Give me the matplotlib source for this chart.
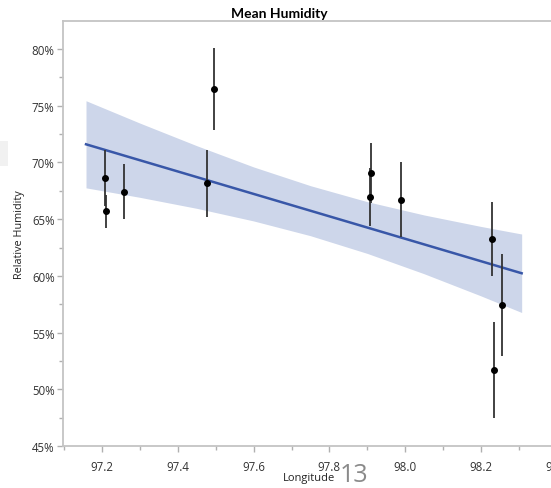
import numpy as np
import matplotlib.pyplot as plt
from matplotlib.ticker import MultipleLocator, FuncFormatter
from matplotlib.patches import Rectangle

# station means with error bars
longitude = [97.208, 97.211, 97.257, 97.476, 97.496, 97.909, 97.906, 97.990, 98.230, 98.255, 98.235]
humidity = [68.61, 65.70, 67.41, 68.17, 76.47, 69.06, 66.96, 66.70, 63.25, 57.42, 51.69]
humidity_err = [2.45, 1.47, 2.44, 2.95, 3.59, 2.64, 2.56, 3.31, 3.24, 4.49, 4.20]

# fitted line and its confidence band
fit_x = [97.157, 98.308]
fit_y = [71.60, 60.23]
band_x = [97.157, 97.3, 97.45, 97.6, 97.75, 97.9, 98.05, 98.2, 98.308]
band_hi = [75.44, 73.46, 71.47, 69.60, 67.95, 66.54, 65.37, 64.36, 63.69]
band_lo = [67.76, 66.92, 65.95, 64.84, 63.54, 61.98, 60.19, 58.24, 56.77]

fig = plt.figure(figsize=(5.51, 4.89), dpi=100)
ax = fig.add_axes([63 / 551, 42 / 489, 502 / 551, 425 / 489])

ax.fill_between(band_x, band_lo, band_hi, color='#cdd6ea', lw=0, zorder=1)
ax.plot(fit_x, fit_y, color='#3857a8', lw=1.8, zorder=2)
ax.errorbar(longitude, humidity, yerr=humidity_err, fmt='o', color='black',
            ecolor='#333333', elinewidth=1.3, markersize=4, capsize=0, zorder=3)

ax.set_xlim(97.0962, 98.4225)
ax.set_ylim(45, 82.47)
ax.xaxis.set_major_locator(MultipleLocator(0.2))
ax.xaxis.set_minor_locator(MultipleLocator(0.1))
ax.yaxis.set_major_locator(MultipleLocator(5))
ax.yaxis.set_minor_locator(MultipleLocator(2.5))
ax.xaxis.set_major_formatter(FuncFormatter(lambda v, p: f'{v:.1f}'))
ax.yaxis.set_major_formatter(FuncFormatter(lambda v, p: f'{v:.0f}%'))

tick_font = 'Open Sans'
for lab in ax.get_xticklabels() + ax.get_yticklabels():
    lab.set_fontfamily(tick_font)
ax.tick_params(which='both', colors='#b0b0b0', labelcolor='#333333', labelsize=8.3, direction='out')
ax.tick_params(which='major', length=4, width=1)
ax.tick_params(which='minor', length=3, width=1)
ax.tick_params(axis='x', pad=6)
ax.tick_params(axis='y', pad=2)

for side in ['left', 'bottom', 'top']:
    ax.spines[side].set_color('#c4c4c4')
    ax.spines[side].set_linewidth(1.3)
ax.spines['right'].set_visible(False)

ax.set_title('Mean Humidity', fontfamily='Lato', fontweight='bold', fontsize=10, pad=3, x=0.43)
ax.set_ylabel('Relative Humidity', fontfamily=tick_font, fontsize=7.8, color='#222222', labelpad=5)

fig.text(309 / 551, 1 - 479 / 489, 'Longitude', fontfamily=tick_font, fontsize=8,
         color='#222222', ha='center', va='center')
fig.text(340 / 551, 1 - 476 / 489, '13', fontfamily=tick_font, fontsize=18,
         color='#8a8a8a', ha='left', va='center')

# faint grey smudge at the left edge
fig.patches.append(Rectangle((0, 1 - 167 / 489), 8 / 551, 25 / 489, transform=fig.transFigure,
                             color='#f1f1f1', lw=0))

fig.savefig('out.png', dpi=100)
